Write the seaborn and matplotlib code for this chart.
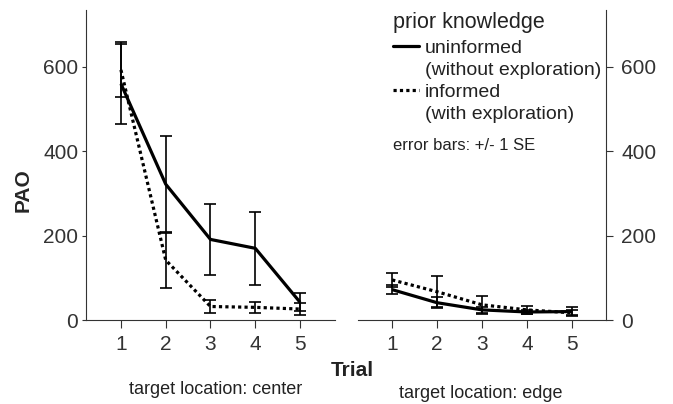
import numpy as np
import matplotlib
matplotlib.use("Agg")
import matplotlib.pyplot as plt
from matplotlib.lines import Line2D
import seaborn as sns

# data (mean PAO and +/- 1 SE per trial)
trials = [1, 2, 3, 4, 5]

center_uninf = [560, 322, 191, 170, 42]
center_uninf_se = [95, 114, 85, 87, 21]
center_inf = [593, 142, 32, 30, 26]
center_inf_se = [65, 65, 15, 13, 14]

edge_uninf = [72, 41, 24, 19, 20]
edge_uninf_se = [10, 13, 8, 5, 10]
edge_inf = [95, 67, 36, 24, 17]
edge_inf_se = [16, 37, 21, 9, 6]

sns.set_style("ticks")
plt.rcParams['font.family'] = ['Liberation Sans', 'DejaVu Sans']
plt.rcParams['axes.edgecolor'] = '#333333'
plt.rcParams['axes.linewidth'] = 0.8
plt.rcParams['xtick.color'] = '#333333'
plt.rcParams['ytick.color'] = '#333333'
plt.rcParams['text.color'] = '#222222'

W, H = 673, 404
fig = plt.figure(figsize=(W / 100, H / 100), dpi=100)
fig.patch.set_facecolor('white')

def px_axes(x0, x1, ytop, ybot):
    return fig.add_axes([x0 / W, 1 - ybot / H, (x1 - x0) / W, (ybot - ytop) / H])

ax1 = px_axes(86, 335, 10, 320)
ax2 = px_axes(358, 606, 10, 320)

dotted = (0, (1, 1))
lw = 2.3

def draw_panel(ax, uninf, uninf_se, inf, inf_se):
    sns.lineplot(x=trials, y=uninf, ax=ax, color='black', linewidth=lw,
                 solid_capstyle='butt')
    sns.lineplot(x=trials, y=inf, ax=ax, color='black', linewidth=lw,
                 linestyle=dotted, dash_capstyle='butt')
    ax.errorbar(trials, uninf, yerr=uninf_se, fmt='none', ecolor='black',
                elinewidth=1.2, capsize=4.3, capthick=1.2)
    ax.errorbar(trials, inf, yerr=inf_se, fmt='none', ecolor='black',
                elinewidth=1.2, capsize=4.3, capthick=1.2)
    ax.set_ylim(0, 735)
    ax.set_yticks([0, 200, 400, 600])
    ax.set_xticks(trials)
    ax.set_xlabel('')
    ax.set_ylabel('')
    ax.tick_params(axis='x', labelsize=15, length=6, width=0.8, pad=4.5)
    ax.spines['top'].set_visible(False)

draw_panel(ax1, center_uninf, center_uninf_se, center_inf, center_inf_se)
draw_panel(ax2, edge_uninf, edge_uninf_se, edge_inf, edge_inf_se)

ax1.set_xlim(0.22, 5.78)
ax2.set_xlim(0.24, 5.76)

ax1.spines['right'].set_visible(False)
ax1.tick_params(axis='y', labelsize=15, length=3, width=0.8, pad=2.5)

ax2.spines['left'].set_visible(False)
ax2.yaxis.tick_right()
ax2.tick_params(axis='y', labelsize=15, length=5, width=0.8, pad=6)

ax1.set_ylabel('PAO', fontsize=15, fontweight='bold')
ax1.yaxis.set_label_coords(-0.215, 0.42)

fig.text(352 / W, 1 - 370 / H, 'Trial', fontsize=15, fontweight='bold',
         ha='center', va='center')
fig.text(216 / W, 1 - 390 / H, 'target location: center', fontsize=13,
         ha='center', va='center')
fig.text(481 / W, 1 - 394 / H, 'target location: edge', fontsize=13,
         ha='center', va='center')

# legend
fig.text(393 / W, 1 - 28 / H, 'prior knowledge', fontsize=15.5,
         ha='left', va='baseline')
handles = [
    Line2D([], [], color='black', linewidth=lw),
    Line2D([], [], color='none'),
    Line2D([], [], color='black', linewidth=lw, linestyle=dotted),
    Line2D([], [], color='none'),
]
labels = ['uninformed', '(without exploration)', 'informed', '(with exploration)']
leg = ax2.legend(handles, labels, loc='upper left',
                 bbox_to_anchor=(393 / W, 1 - 39 / H), bbox_transform=fig.transFigure,
                 frameon=False, fontsize=14,
                 handlelength=1.35, handletextpad=0.3, labelspacing=0.24,
                 borderpad=0, borderaxespad=0)

fig.text(393 / W, 1 - 146 / H, 'error bars: +/- 1 SE', fontsize=12,
         ha='left', va='center')

fig.savefig('out.png', dpi=100)
